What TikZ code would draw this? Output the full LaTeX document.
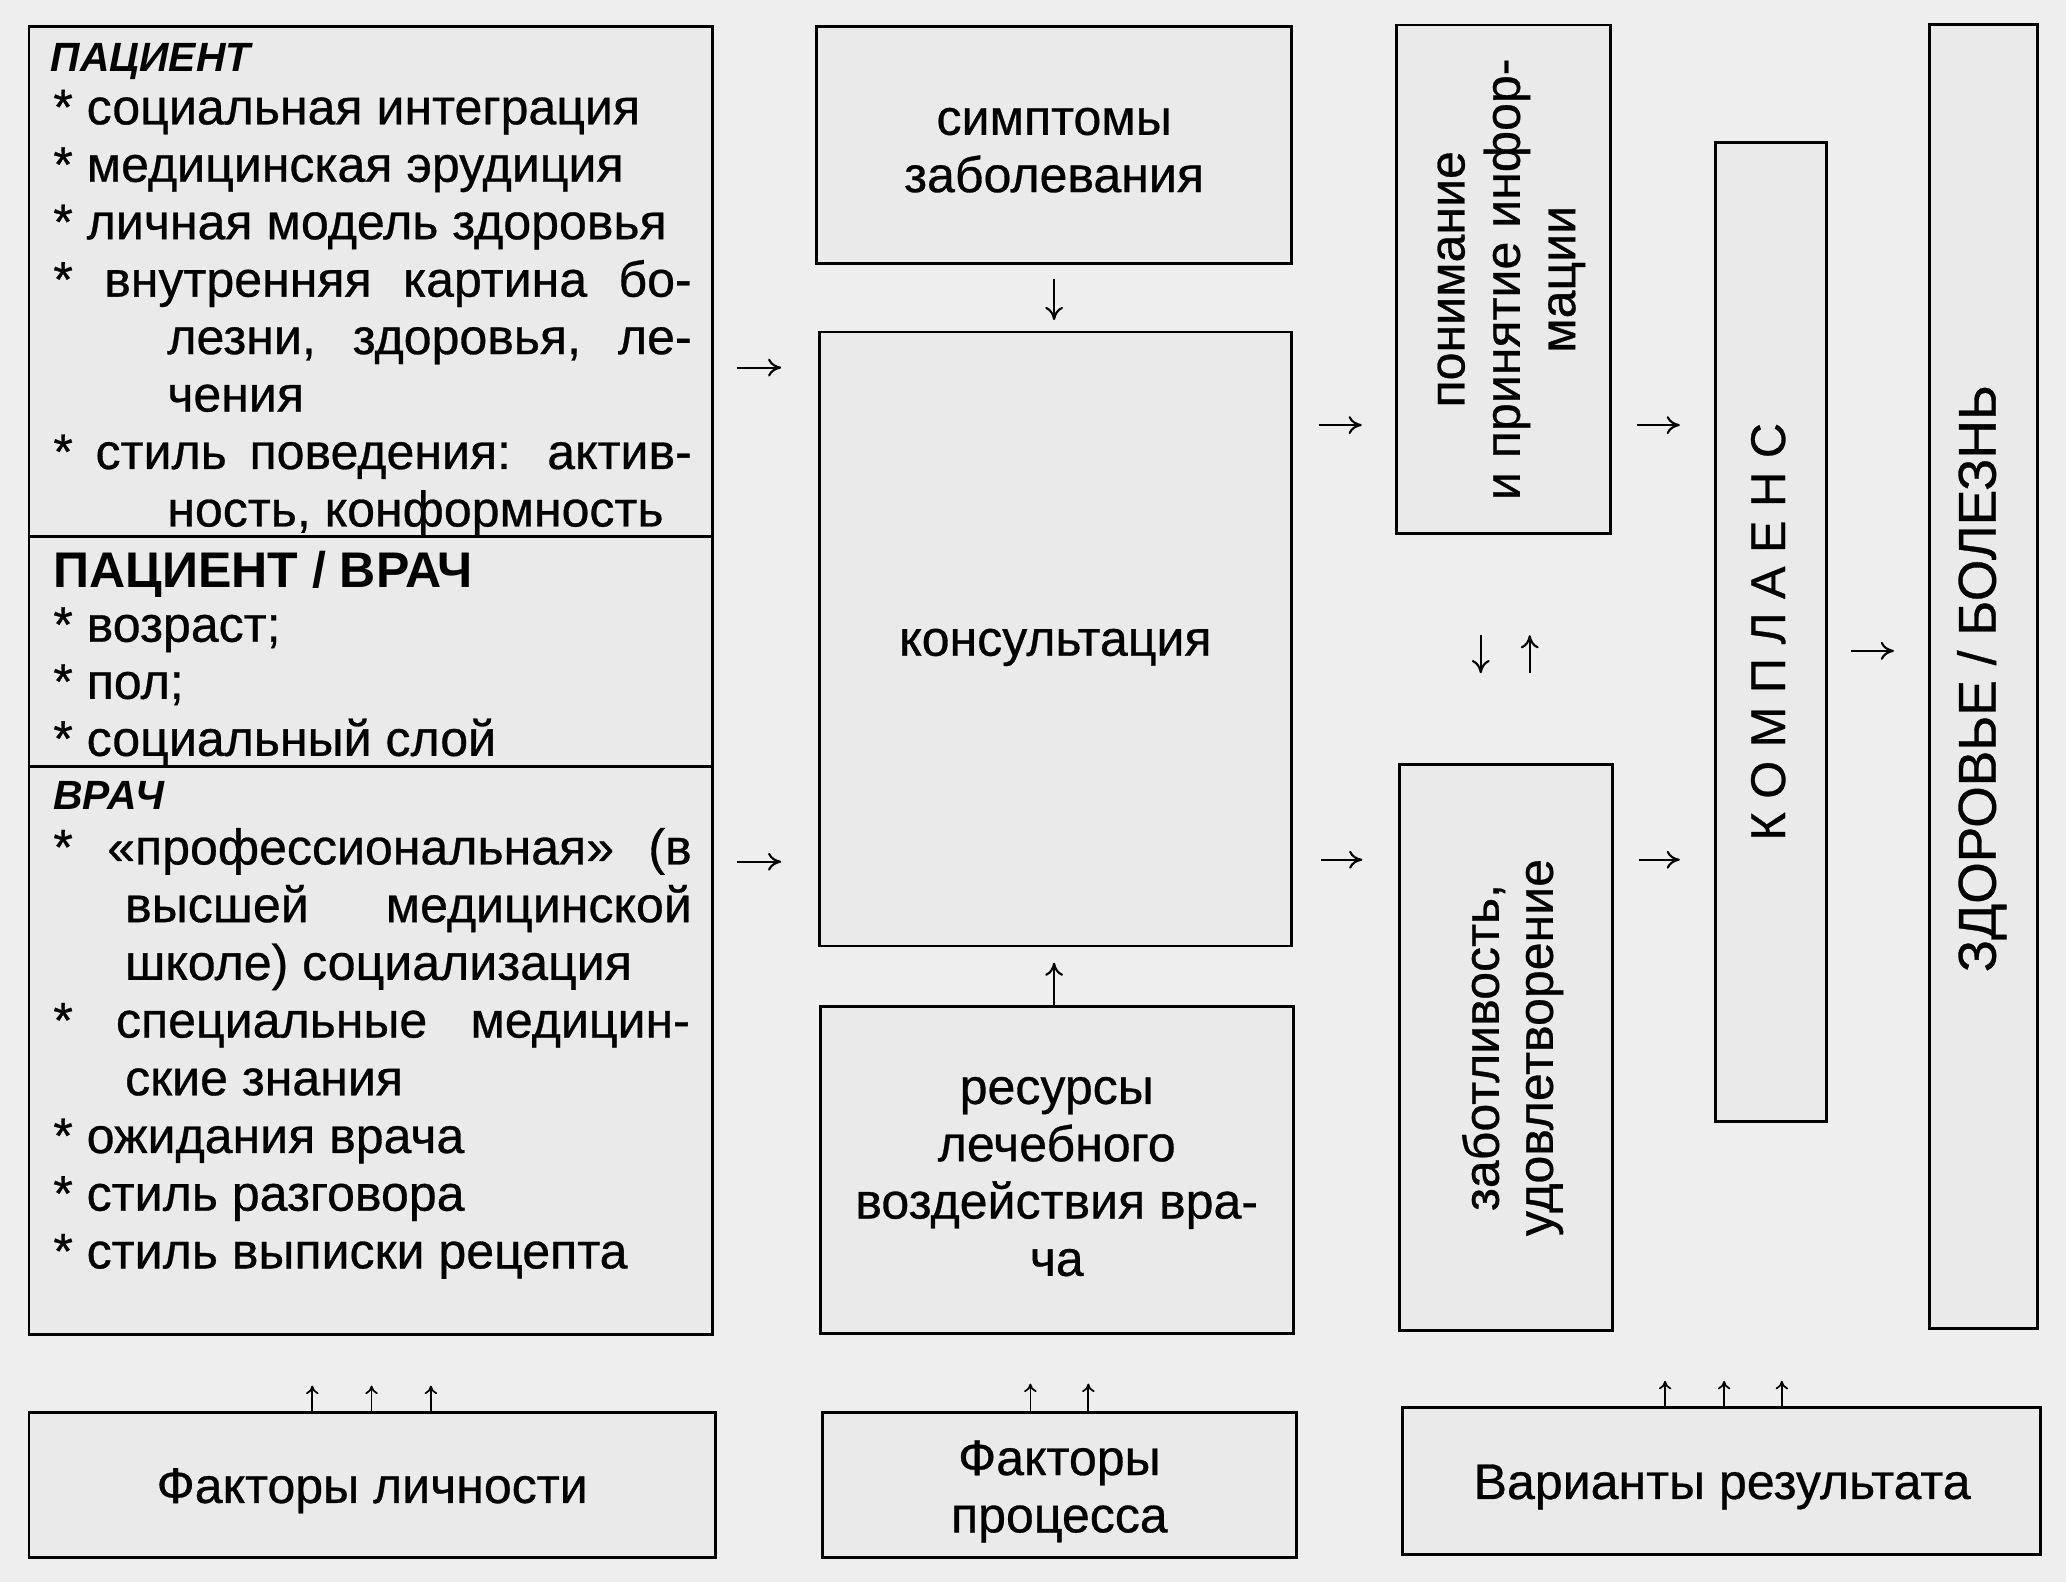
\documentclass[tikz,border=0pt]{standalone}
\usepackage{fontspec}
\setmainfont{Liberation Sans}[UprightFeatures={FakeBold=0.6}]
\usetikzlibrary{arrows.meta}
\definecolor{paper}{HTML}{EEEEEE}
\definecolor{boxfill}{HTML}{EAEAEA}
\begin{document}
\begin{tikzpicture}[x=1pt,y=-1pt,
  box/.style={draw=black, line width=2.2pt, fill=boxfill, inner sep=0pt, rectangle},
  body/.style={font=\fontsize{38}{43.5}\selectfont, inner sep=0pt, outer sep=0pt},
  ltxt/.style={body, anchor=mid west, yshift=-7pt},
  ctxt/.style={body, align=center},
  vtxt/.style={body, align=center, rotate=90},
  hdbi/.style={ltxt, font=\fontsize{31}{36}\selectfont\bfseries\itshape},
  hdb/.style={ltxt, font=\fontsize{38}{43}\selectfont\bfseries},
  arr/.style={line width=1.6pt, -{To[length=10pt,width=13.6pt]}},
  sarr/.style={line width=1.3pt, -{To[length=6.5pt,width=9.5pt]}},
  divline/.style={line width=2.2pt}
]
\fill[paper] (0,0) rectangle (1568,1200.7);
\useasboundingbox (0,0) rectangle (1568,1200.7);

% ---------- boxes ----------
\node[box, minimum width=519pt, minimum height=993pt] (lbox) at (281.5,516.5) {};
\node[box, minimum width=360pt, minimum height=180pt] (sym) at (800,110) {};
\node[box, minimum width=358pt, minimum height=466pt] (cons) at (801,485) {};
\node[box, minimum width=359pt, minimum height=248pt] (res) at (802.5,888) {};
\node[box, minimum width=162pt, minimum height=386pt] (pon) at (1141,212) {};
\node[box, minimum width=162pt, minimum height=430pt] (zab) at (1143,795) {};
\node[box, minimum width=84pt, minimum height=743pt] (komp) at (1344,479.5) {};
\node[box, minimum width=82pt, minimum height=990pt] (zdor) at (1505.5,513.5) {};
\node[box, minimum width=521pt, minimum height=110pt] (flich) at (282.5,1127) {};
\node[box, minimum width=360pt, minimum height=110pt] (fproc) at (804,1127) {};
\node[box, minimum width=484pt, minimum height=111pt] (var) at (1306.5,1124) {};

% dividers in the left box
\coordinate (dv1) at (0,407);
\coordinate (dv2) at (0,582);
\draw[divline] (lbox.west |- dv1) -- (lbox.east |- dv1);
\draw[divline] (lbox.west |- dv2) -- (lbox.east |- dv2);

% ---------- left box texts ----------
\node[hdbi] (h1) at (38.6,45) {ПАЦИЕНТ};
\node[ltxt] (l1) at (40.5,84.7) {* социальная интеграция};
\node[ltxt] (l2) at (40.5,128.3) {* медицинская эрудиция};
\node[ltxt] (l3) at (40.5,171.9) {* личная модель здоровья};
\node[ltxt] (l4) at (40.5,215.5) {\makebox[484.5pt][s]{* внутренняя картина бо-}};
\node[ltxt] (l5) at (127,259.1) {\makebox[398pt][s]{лезни, здоровья, ле-}};
\node[ltxt] (l6) at (127,302.7) {чения};
\node[ltxt] (l7) at (40.5,346.3) {\makebox[484.5pt][s]{* стиль поведения: актив-}};
\node[ltxt] (l8) at (127,389.9) {ность, конформность};

\node[hdb] (h2) at (40.5,436.3) {ПАЦИЕНТ / ВРАЧ};
\node[ltxt] (m1) at (40.5,477.4) {* возраст;};
\node[ltxt] (m2) at (40.5,520.7) {* пол;};
\node[ltxt] (m3) at (40.5,564) {* социальный слой};

\node[hdbi] (h3) at (40.5,605) {ВРАЧ};
\node[ltxt] (d1) at (40.5,646.4) {\makebox[484.5pt][s]{* «профессиональная» (в}};
\node[ltxt] (d2) at (95,690.2) {\makebox[430pt][s]{высшей медицинской}};
\node[ltxt] (d3) at (95,734) {школе) социализация};
\node[ltxt] (d4) at (40.5,777.8) {\makebox[483pt][s]{* специальные медицин-}};
\node[ltxt] (d5) at (95,821.6) {ские знания};
\node[ltxt] (d6) at (40.5,865.4) {* ожидания врача};
\node[ltxt] (d7) at (40.5,909.2) {* стиль разговора};
\node[ltxt] (d8) at (40.5,953) {* стиль выписки рецепта};

% ---------- middle texts ----------
\node[ctxt] (tsym) at (800,114) {симптомы\\заболевания};
\node[body, anchor=mid] (tcons) at (801,495) {консультация};
\node[ctxt] (tres) at (802,893) {ресурсы\\лечебного\\воздействия вра-\\ча};

% ---------- vertical texts ----------
\node[vtxt, font=\fontsize{38}{42}\selectfont] (tpon) at (1147,212) {понимание\\и принятие инфор-\\мации};
\node[vtxt, font=\fontsize{38}{41}\selectfont] (tzab) at (1148,795) {заботливость,\\удовлетворение};
\node[vtxt, font=\fontsize{37}{40}\selectfont] (tkomp) at (1342,479.5) {К О М П Л А Е Н С};
\node[vtxt, font=\fontsize{40.5}{44}\selectfont] (tzdor) at (1504,515) {ЗДОРОВЬЕ / БОЛЕЗНЬ};

% ---------- bottom texts ----------
\node[body, anchor=mid] (tflich) at (282.5,1138) {Факторы личности};
\node[ctxt] (tfproc) at (804,1132) {Факторы\\процесса};
\node[body, anchor=mid] (tvar) at (1307,1135) {Варианты результата};

% ---------- arrows ----------
\coordinate (ya) at (0,279);
\coordinate (yb) at (0,654);
\coordinate (yc) at (0,322.6);
\coordinate (yd) at (0,652.5);
\coordinate (ye) at (0,494);
\coordinate (xa) at (800,0);
\coordinate (xb) at (1123.8,0);
\coordinate (xc) at (1161,0);

\draw[arr, shorten <=17pt, shorten >=28pt] (lbox.east |- ya) -- (cons.west |- ya);
\draw[arr, shorten <=17pt, shorten >=28pt] (lbox.east |- yb) -- (cons.west |- yb);
\draw[arr, shorten <=11pt, shorten >=8pt] (sym.south -| xa) -- (cons.north -| xa);
\draw[arr, shorten >=11.5pt] (res.north -| xa) -- (cons.south -| xa);
\draw[arr, shorten <=20pt, shorten >=25.4pt] (cons.east |- yc) -- (pon.west |- yc);
\draw[arr, shorten <=21.5pt, shorten >=27pt] (cons.east |- yd) -- (zab.west |- yd);
\draw[arr, shorten <=19.6pt, shorten >=26pt] (pon.east |- yc) -- (komp.west |- yc);
\draw[arr, shorten <=18.5pt, shorten >=26pt] (zab.east |- yd) -- (komp.west |- yd);
\draw[arr, shorten <=18pt, shorten >=26pt] (komp.east |- ye) -- (zdor.west |- ye);
\draw[arr, shorten <=76pt, shorten >=68pt] (pon.south -| xb) -- (zab.north -| xb);
\draw[arr, shorten <=68pt, shorten >=76pt] (zab.north -| xc) -- (pon.south -| xc);

% small up arrows
\coordinate (p1) at (237,0);
\coordinate (p2) at (282,0);
\coordinate (p3) at (327,0);
\coordinate (q1) at (782,0);
\coordinate (q2) at (826,0);
\draw[sarr, shorten >=37.5pt] (flich.north -| p1) -- (lbox.south -| p1);
\draw[sarr, shorten >=37.5pt] (flich.north -| p2) -- (lbox.south -| p2);
\draw[sarr, shorten >=37.5pt] (flich.north -| p3) -- (lbox.south -| p3);
\draw[sarr, shorten >=37pt] (fproc.north -| q1) -- (res.south -| q1);
\draw[sarr, shorten >=37pt] (fproc.north -| q2) -- (res.south -| q2);
\coordinate (v1) at (1263.7,1048);
\coordinate (v2) at (1308.5,1048);
\coordinate (v3) at (1352.3,1048);
\draw[sarr] (var.north -| v1) -- (v1);
\draw[sarr] (var.north -| v2) -- (v2);
\draw[sarr] (var.north -| v3) -- (v3);
\end{tikzpicture}
\end{document}
